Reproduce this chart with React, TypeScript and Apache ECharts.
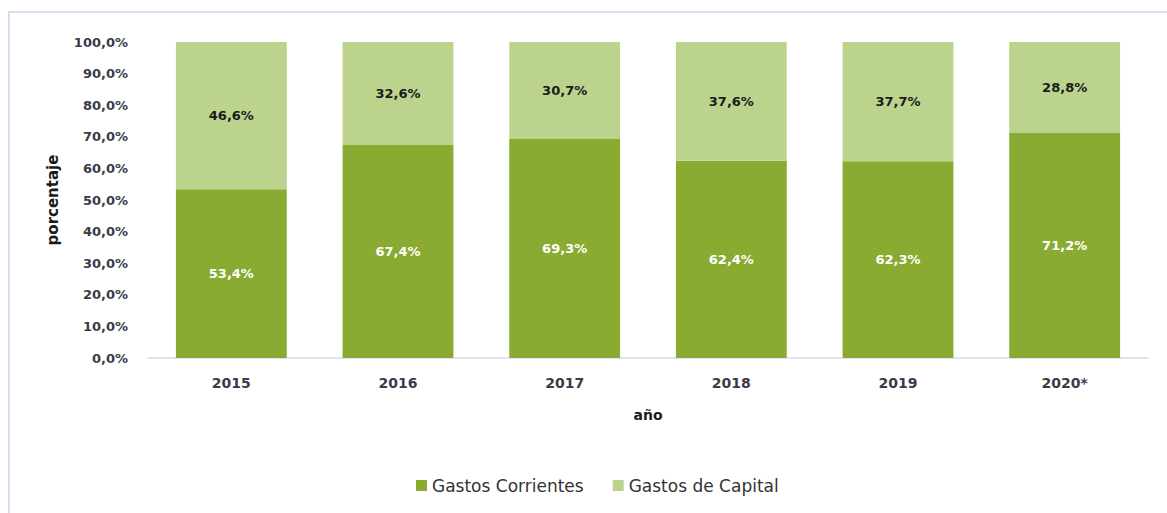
import React, { useEffect, useRef } from "react";
import * as echarts from "echarts";

const years = ["2015", "2016", "2017", "2018", "2019", "2020*"];
const gastosCorrientes = [53.4, 67.4, 69.3, 62.4, 62.3, 71.2];
const gastosCapital = [46.6, 32.6, 30.7, 37.6, 37.7, 28.8];
const seriesNames = ["Gastos Corrientes", "Gastos de Capital"];

const FONT = "DejaVu Sans";
const fmt = (v: number) => v.toFixed(1).replace(".", ",") + "%";

export default function App() {
  const ref = useRef<HTMLDivElement>(null);
  useEffect(() => {
    if (!ref.current) return;
    const chart = echarts.init(ref.current, null, { renderer: "svg" });
    chart.setOption({
      animation: false,
      backgroundColor: "#ffffff",
      textStyle: { fontFamily: FONT },
      graphic: [
        {
          type: "rect",
          shape: { x: 9, y: 12, width: 1300, height: 700 },
          style: { fill: "none", stroke: "#dcdcf0", lineWidth: 2 },
          silent: true,
        },
      ],
      grid: { left: 148, right: 19, top: 42, bottom: 155 },
      legend: {
        data: seriesNames,
        left: 411,
        top: 472,
        icon: "rect",
        itemWidth: 11,
        itemHeight: 11,
        itemGap: 29,
        textStyle: { fontFamily: FONT, fontSize: 17, color: "#333333" },
      },
      xAxis: {
        type: "category",
        data: years,
        name: "año",
        nameLocation: "middle",
        nameGap: 50,
        nameTextStyle: { fontFamily: FONT, fontSize: 14, fontWeight: "bold", color: "#1a1a1a" },
        axisLine: { show: true, lineStyle: { color: "#d9d9ef", width: 1.5 } },
        axisTick: { show: false },
        axisLabel: {
          margin: 18,
          fontFamily: FONT,
          fontSize: 14,
          fontWeight: "bold",
          color: "#3a3a4a",
        },
      },
      yAxis: {
        type: "value",
        min: 0,
        max: 100,
        interval: 10,
        name: "porcentaje",
        nameLocation: "middle",
        nameGap: 88,
        nameRotate: 90,
        nameTextStyle: { fontFamily: FONT, fontSize: 15, fontWeight: "bold", color: "#1a1a1a" },
        axisLine: { show: false },
        axisTick: { show: false },
        splitLine: { show: false },
        axisLabel: {
          margin: 20,
          fontFamily: FONT,
          fontSize: 13,
          fontWeight: "bold",
          color: "#3a3a4a",
          formatter: (v: number) => fmt(v),
        },
      },
      series: [
        {
          name: seriesNames[0],
          type: "bar",
          stack: "total",
          data: gastosCorrientes,
          barWidth: "66.5%",
          itemStyle: { color: "#8aab32" },
          label: {
            show: true,
            position: "inside",
            color: "#ffffff",
            fontFamily: FONT,
            fontSize: 13,
            fontWeight: "bold",
            formatter: (p: any) => fmt(p.value),
          },
        },
        {
          name: seriesNames[1],
          type: "bar",
          stack: "total",
          data: gastosCapital,
          barWidth: "66.5%",
          itemStyle: { color: "#bcd38e" },
          label: {
            show: true,
            position: "inside",
            color: "#1a1a1a",
            fontFamily: FONT,
            fontSize: 13,
            fontWeight: "bold",
            formatter: (p: any) => fmt(p.value),
          },
        },
      ],
    });
    return () => chart.dispose();
  }, []);
  return (
    <div
      ref={ref}
      style={{ position: "fixed", left: 0, top: 0, width: 1167, height: 513 }}
    />
  );
}
